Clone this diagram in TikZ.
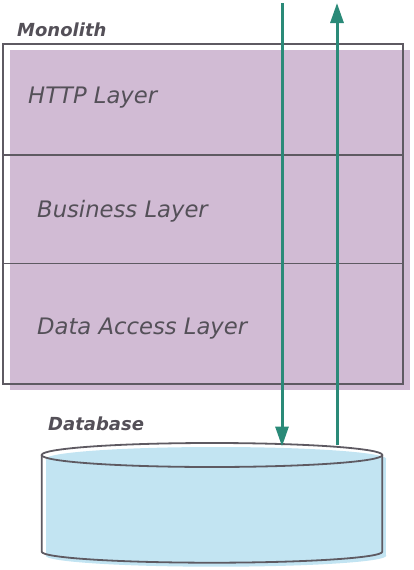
\documentclass[tikz,border=0pt]{standalone}
\usepackage{fontspec}
\setmainfont{DejaVu Sans}
\usetikzlibrary{arrows.meta}
\definecolor{layerfill}{HTML}{D1BBD4}
\definecolor{dbfill}{HTML}{C2E4F2}
\definecolor{edge}{HTML}{5E5A62}
\definecolor{flow}{HTML}{2A8A78}
\definecolor{txt}{HTML}{545058}
\tikzset{
  layerlabel/.style={anchor=base west, inner sep=0pt, text=txt, font=\fontsize{22.7}{23}\selectfont\itshape},
  titlelabel/.style={anchor=base west, inner sep=0pt, text=txt, font=\fontsize{18}{18}\selectfont\bfseries\itshape},
  flowarrow/.style={draw=flow, line width=3pt, -{Triangle[length=20pt,width=13pt]}},
  outline/.style={draw=edge, line width=2pt},
  divider/.style={draw=edge, line width=1.1pt}
}
\begin{document}
\begin{tikzpicture}[x=1pt,y=-1pt]
\useasboundingbox (0,0) rectangle (414,570);
% monolith fill (offset) and outline
\fill[layerfill] (10,50) rectangle (409.5,389.5);
\draw[outline] (3,44) rectangle (403,383.5);
\draw[divider] (3,155) -- (403,155);
\draw[divider] (3,263.3) -- (403,263.3);
\node[titlelabel] (mono) at (17,36) {Monolith};
\node[layerlabel] (http) at (28,103) {HTTP Layer};
\node[layerlabel] (biz) at (37,217.5) {Business Layer};
\node[layerlabel] (dal) at (37,334.5) {Data Access Layer};
% database
\fill[dbfill] (216,459) ellipse [x radius=170.3pt, y radius=12pt];
\fill[dbfill] (45.7,459) rectangle (386.3,555.7);
\fill[dbfill] (216,555.7) ellipse [x radius=170.3pt, y radius=11pt];
\draw[outline, line width=1.8pt] (212,455) ellipse [x radius=170.3pt, y radius=12pt];
\draw[outline, line width=1.8pt] (41.7,455) -- (41.7,551.7)
  arc[start angle=180, end angle=360, x radius=170.3pt, y radius=11pt] -- (382.3,455);
\node[titlelabel] (db) at (48,430.5) {Database};
% arrows
\coordinate (inTop) at (282,3);
\coordinate (inEnd) at (282,446.5);
\coordinate (outStart) at (337,445);
\coordinate (outTop) at (337,3);
\draw[flowarrow] (inTop) -- (inEnd);
\draw[flowarrow] (outStart) -- (outTop);
\end{tikzpicture}
\end{document}
